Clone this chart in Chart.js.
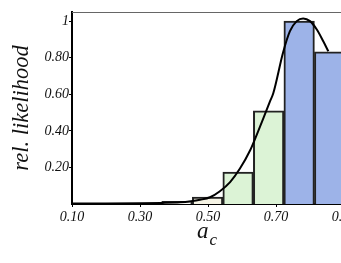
<!DOCTYPE html>
<html>
<head>
<meta charset="utf-8">
<script src="https://cdn.jsdelivr.net/npm/chart.js@4/dist/chart.umd.min.js"></script>
<style>
html,body{margin:0;padding:0;background:#fff;overflow:hidden;width:341px;height:263px;}
#wrap{width:361px;height:263px;}
</style>
</head>
<body>
<div id="wrap"><canvas id="c" width="361" height="263"></canvas></div>
<script>
// Histogram bins (centers on a_c axis) and relative likelihood heights
const binCenters = [0.4089, 0.4987, 0.5885, 0.6783, 0.7681, 0.8579];
const binValues  = [0.015, 0.038, 0.175, 0.51, 1.0, 0.832];
const binColors  = ['#fbfbf7', '#f5f3e4', '#dcf3d6', '#dcf3d6', '#9db3e8', '#9db3e8'];
// Fitted curve
const curveX = [0.10, 0.20, 0.30, 0.36, 0.418, 0.45, 0.4765, 0.506, 0.535, 0.565, 0.594, 0.624, 0.643, 0.663, 0.682, 0.692, 0.721, 0.741, 0.761, 0.780, 0.800, 0.820, 0.839, 0.854];
const curveY = [0.003, 0.003, 0.004, 0.006, 0.009, 0.015, 0.023, 0.037, 0.070, 0.120, 0.194, 0.294, 0.377, 0.469, 0.560, 0.606, 0.830, 0.945, 1.000, 1.015, 1.000, 0.954, 0.890, 0.835];
const xTicks = [0.10, 0.30, 0.50, 0.70, 0.90];
const yTicks = [0.20, 0.40, 0.60, 0.80, 1];

const serif = "'Liberation Serif', 'DejaVu Serif', serif";

const titlesPlugin = {
  id: 'titles',
  afterDraw(chart) {
    const ctx = chart.ctx;
    const a = chart.chartArea;
    ctx.save();
    // top frame line
    ctx.strokeStyle = '#666';
    ctx.lineWidth = 1;
    ctx.beginPath();
    ctx.moveTo(a.left, a.top + 0.5);
    ctx.lineTo(a.right, a.top + 0.5);
    ctx.stroke();
    // y title
    ctx.fillStyle = '#111';
    ctx.font = 'italic 22.5px ' + serif;
    ctx.textAlign = 'center';
    ctx.textBaseline = 'alphabetic';
    ctx.translate(28, 108);
    ctx.rotate(-Math.PI / 2);
    ctx.fillText('rel. likelihood', 0, 0);
    ctx.restore();
    // x title: a with subscript c
    ctx.save();
    ctx.fillStyle = '#111';
    ctx.textBaseline = 'alphabetic';
    ctx.textAlign = 'left';
    ctx.font = 'italic 23px ' + serif;
    ctx.fillText('a', 197, 238);
    ctx.font = 'italic 17px ' + serif;
    ctx.fillText('c', 209.5, 245);
    ctx.restore();
  }
};

new Chart(document.getElementById('c'), {
  type: 'bar',
  data: {
    datasets: [
      {
        type: 'line',
        order: 0,
        data: curveX.map((x, i) => ({x: x, y: curveY[i]})),
        borderColor: '#000',
        borderWidth: 2,
        pointRadius: 0,
        fill: false,
        cubicInterpolationMode: 'monotone'
      },
      {
        type: 'bar',
        order: 1,
        data: binCenters.map((x, i) => ({x: x, y: binValues[i]})),
        backgroundColor: binColors,
        borderColor: '#222',
        borderWidth: 2,
        borderSkipped: 'start',
        barPercentage: 1,
        categoryPercentage: 1
      }
    ]
  },
  options: {
    responsive: false,
    animation: false,
    devicePixelRatio: 1,
    layout: {padding: {top: 12, left: 0, right: 0, bottom: 0}},
    plugins: {legend: {display: false}, tooltip: {enabled: false}},
    scales: {
      x: {
        type: 'linear',
        min: 0.10,
        max: 0.95,
        offset: false,
        afterFit(s) { s.height = 59; },
        afterBuildTicks(s) { s.ticks = xTicks.map(v => ({value: v})); },
        grid: {display: true, offset: false, drawOnChartArea: false, drawTicks: true, tickLength: 3, color: '#000'},
        border: {display: true, color: '#000', width: 2},
        ticks: {
          color: '#111',
          font: {family: serif, style: 'italic', size: 14},
          padding: 2,
          maxRotation: 0,
          autoSkip: false,
          callback: v => v.toFixed(2)
        }
      },
      y: {
        type: 'linear',
        min: 0,
        max: 1.05,
        afterFit(s) { s.width = 72; },
        afterBuildTicks(s) { s.ticks = yTicks.map(v => ({value: v})); },
        grid: {display: true, drawOnChartArea: false, drawTicks: true, tickLength: 3, color: '#000'},
        border: {display: true, color: '#000', width: 2},
        ticks: {
          color: '#111',
          font: {family: serif, style: 'italic', size: 14},
          padding: 0,
          autoSkip: false,
          callback: v => (v === 1 ? '1' : v.toFixed(2))
        }
      }
    }
  },
  plugins: [titlesPlugin]
});
</script>
</body>
</html>
